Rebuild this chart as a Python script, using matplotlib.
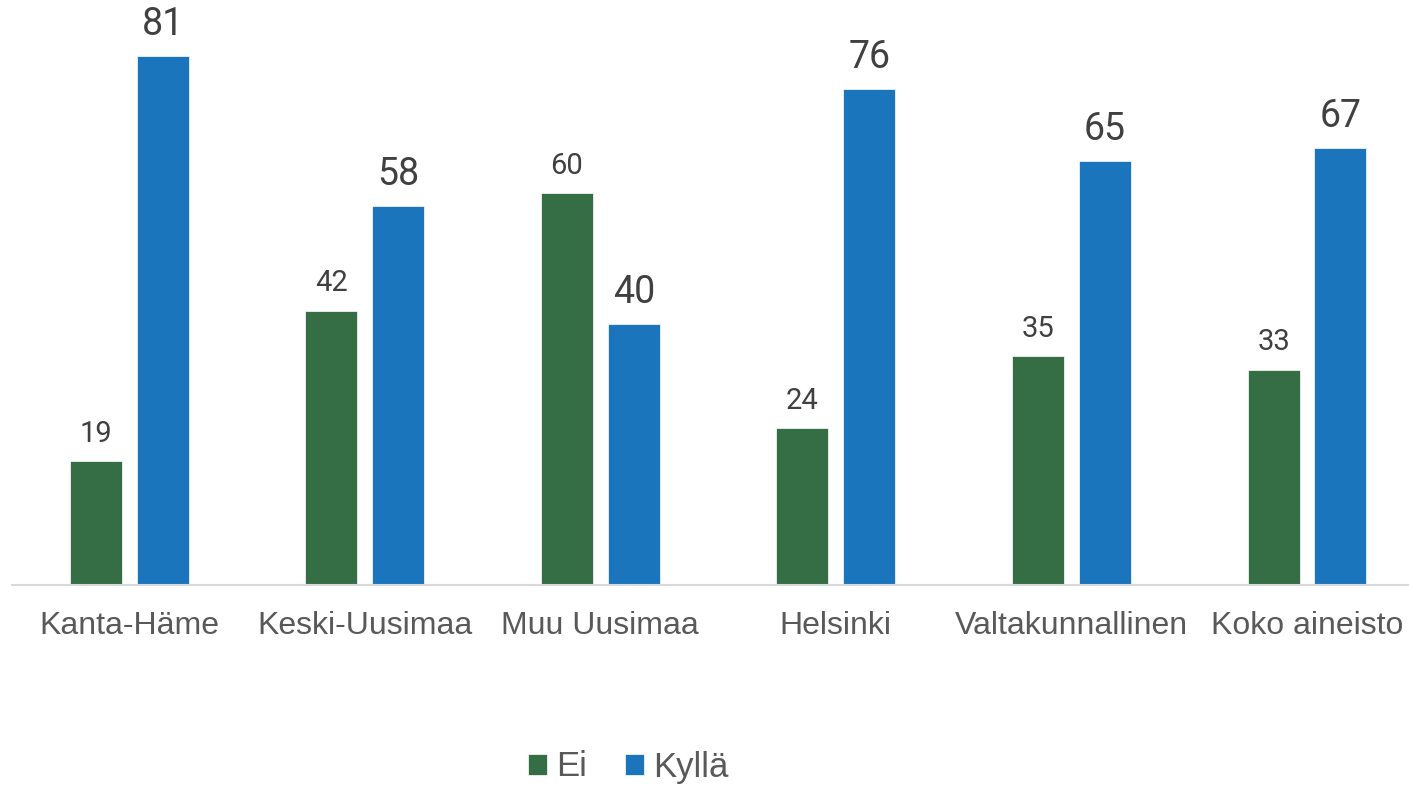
import numpy as np
import matplotlib
matplotlib.use('Agg')
import matplotlib.pyplot as plt

categories = ['Kanta-Häme', 'Keski-Uusimaa', 'Muu Uusimaa', 'Helsinki', 'Valtakunnallinen', 'Koko aineisto']
ei = [19, 42, 60, 24, 35, 33]
kylla = [81, 58, 40, 76, 65, 67]

green = '#356e44'
blue = '#1a75bc'

fig = plt.figure(figsize=(14.09, 7.86), dpi=100)
ax = fig.add_axes([12/1409, 201/786, 1 - 12/1409, 585/786])

x = np.arange(len(categories))
w = 0.221
off = 0.142
b1 = ax.bar(x - off, ei, w, color=green, label='Ei', edgecolor='white', linewidth=0.5)
b2 = ax.bar(x + off, kylla, w, color=blue, label='Kyllä', edgecolor='white', linewidth=0.5)

for xi, v in zip(x, ei):
    ax.annotate(str(v), (xi - off, v), xytext=(0, 14), textcoords='offset points',
                ha='center', va='baseline', fontsize=21, color='#404040', family='Roboto')
for xi, v in zip(x, kylla):
    ax.annotate(str(v), (xi + off, v), xytext=(0, 15), textcoords='offset points',
                ha='center', va='baseline', fontsize=27, color='#404040', family='Roboto')

ax.set_xlim(-0.497, 5.433)
ax.set_ylim(0, 89.6)
ax.set_xticks(x)
ax.set_xticklabels(categories, fontsize=23, color='#595959', family='Liberation Sans')
ax.tick_params(axis='x', length=0, pad=19)
ax.set_yticks([])
for s in ['top', 'right', 'left']:
    ax.spines[s].set_visible(False)
ax.spines['bottom'].set_color('#d9d9d9')
ax.spines['bottom'].set_linewidth(1.5)

leg = fig.legend(handles=[b1, b2], loc='center', bbox_to_anchor=(628/1409, 1 - 767/786),
                 ncol=2, frameon=False, handlelength=0.55, handleheight=0.55,
                 handletextpad=0.25, columnspacing=1.1,
                 prop={'family': 'Liberation Sans', 'size': 25})
for t in leg.get_texts():
    t.set_color('#595959')

fig.savefig('out.png', dpi=100)
